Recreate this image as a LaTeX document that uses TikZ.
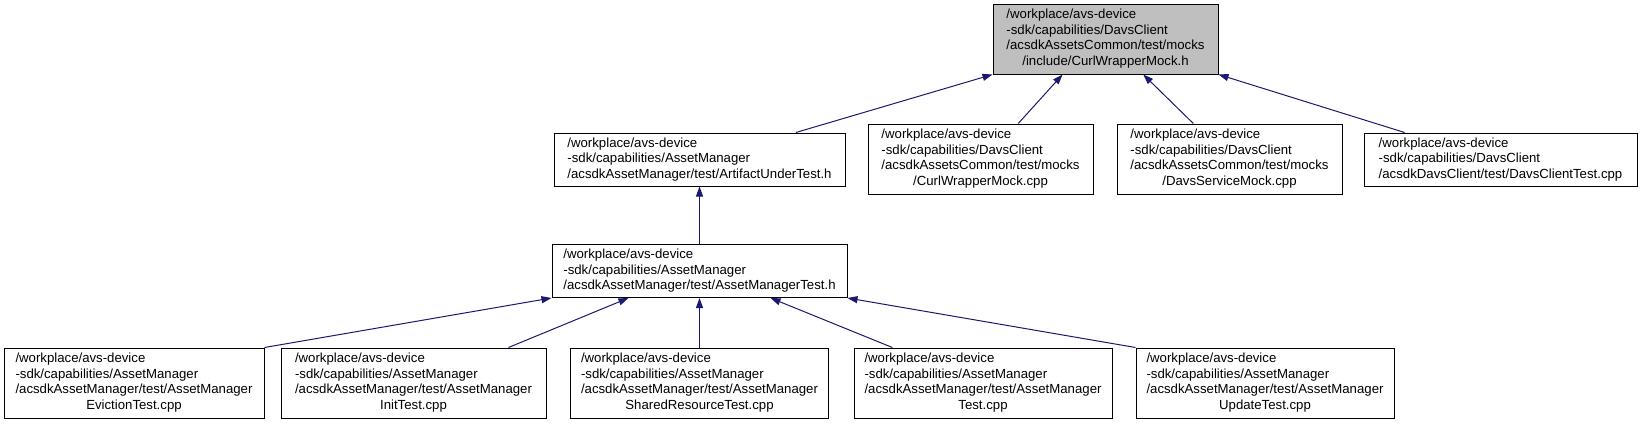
\documentclass[tikz,border=0pt]{standalone}
\usepackage{fontspec}
\setmainfont{Liberation Sans}
\usepackage{xcolor}
\usetikzlibrary{arrows.meta,positioning,calc}

\definecolor{edgeblue}{HTML}{191970}
\definecolor{curfill}{HTML}{BFBFBF}
\newcommand{\lastline}[1]{\multicolumn{1}{@{}c@{}}{#1}}

\begin{document}
\begin{tikzpicture}[x=1pt, y=-1pt,
    filebox/.style={draw=black, line width=1pt, fill=white, inner sep=0pt,
      minimum height=53pt, font=\fontsize{13.2}{15.6}\selectfont},
    tallbox/.style={filebox, minimum height=70pt},
    dep/.style={draw=edgeblue, line width=1pt, -{Triangle[length=10pt,width=7pt]}}]
  \useasboundingbox (0,0) rectangle (1643,423);
  % the header everything depends on
  \node[tallbox, fill=curfill, minimum width=225pt] (curlh) at (1105.5,39)
    {\begin{tabular}{@{}l@{}}/workplace/avs-device\\-sdk/capabilities/DavsClient\\/acsdkAssetsCommon/test/mocks\\\lastline{/include/CurlWrapperMock.h}\end{tabular}};
  % second row
  \node[filebox, minimum width=291pt] (artifact) at (699.5,159.5)
    {\begin{tabular}{@{}l@{}}/workplace/avs-device\\-sdk/capabilities/AssetManager\\/acsdkAssetManager/test/ArtifactUnderTest.h\end{tabular}};
  \node[tallbox, minimum width=225pt] (curlcpp) at (980.5,159)
    {\begin{tabular}{@{}l@{}}/workplace/avs-device\\-sdk/capabilities/DavsClient\\/acsdkAssetsCommon/test/mocks\\\lastline{/CurlWrapperMock.cpp}\end{tabular}};
  \node[tallbox, minimum width=225pt] (davsmock) at (1229.5,159)
    {\begin{tabular}{@{}l@{}}/workplace/avs-device\\-sdk/capabilities/DavsClient\\/acsdkAssetsCommon/test/mocks\\\lastline{/DavsServiceMock.cpp}\end{tabular}};
  \node[filebox, minimum width=273pt] (davstest) at (1500.5,159.5)
    {\begin{tabular}{@{}l@{}}/workplace/avs-device\\-sdk/capabilities/DavsClient\\/acsdkDavsClient/test/DavsClientTest.cpp\end{tabular}};
  % third row
  \node[filebox, minimum width=295pt] (amtest) at (699.5,271)
    {\begin{tabular}{@{}l@{}}/workplace/avs-device\\-sdk/capabilities/AssetManager\\/acsdkAssetManager/test/AssetManagerTest.h\end{tabular}};
  % bottom row
  \node[tallbox, minimum width=260pt] (eviction) at (134,383)
    {\begin{tabular}{@{}l@{}}/workplace/avs-device\\-sdk/capabilities/AssetManager\\/acsdkAssetManager/test/AssetManager\\\lastline{EvictionTest.cpp}\end{tabular}};
  \node[tallbox, minimum width=265pt] (inittest) at (413.5,383)
    {\begin{tabular}{@{}l@{}}/workplace/avs-device\\-sdk/capabilities/AssetManager\\/acsdkAssetManager/test/AssetManager\\\lastline{InitTest.cpp}\end{tabular}};
  \node[tallbox, minimum width=258pt] (shared) at (699.5,383)
    {\begin{tabular}{@{}l@{}}/workplace/avs-device\\-sdk/capabilities/AssetManager\\/acsdkAssetManager/test/AssetManager\\\lastline{SharedResourceTest.cpp}\end{tabular}};
  \node[tallbox, minimum width=258pt] (amcpp) at (983,383)
    {\begin{tabular}{@{}l@{}}/workplace/avs-device\\-sdk/capabilities/AssetManager\\/acsdkAssetManager/test/AssetManager\\\lastline{Test.cpp}\end{tabular}};
  \node[tallbox, minimum width=258pt] (update) at (1265,383)
    {\begin{tabular}{@{}l@{}}/workplace/avs-device\\-sdk/capabilities/AssetManager\\/acsdkAssetManager/test/AssetManager\\\lastline{UpdateTest.cpp}\end{tabular}};
  % includes, arrow points at the included file
  \draw[dep] ($(artifact.north west)!0.83!(artifact.north east)$) -- (curlh.south west);
  \draw[dep] ($(curlcpp.north west)!0.667!(curlcpp.north east)$) -- ($(curlh.south west)!0.31!(curlh.south east)$);
  \draw[dep] ($(davsmock.north west)!0.34!(davsmock.north east)$) -- ($(curlh.south west)!0.667!(curlh.south east)$);
  \draw[dep] ($(davstest.north west)!0.15!(davstest.north east)$) -- (curlh.south east);
  \draw[dep] (amtest) -- (artifact);
  \draw[dep] (eviction.north east) -- (amtest.south west);
  \draw[dep] ($(inittest.north west)!0.857!(inittest.north east)$) -- ($(amtest.south west)!0.26!(amtest.south east)$);
  \draw[dep] (shared) -- (amtest);
  \draw[dep] ($(amcpp.north west)!0.15!(amcpp.north east)$) -- ($(amtest.south west)!0.74!(amtest.south east)$);
  \draw[dep] (update.north west) -- (amtest.south east);
\end{tikzpicture}
\end{document}
